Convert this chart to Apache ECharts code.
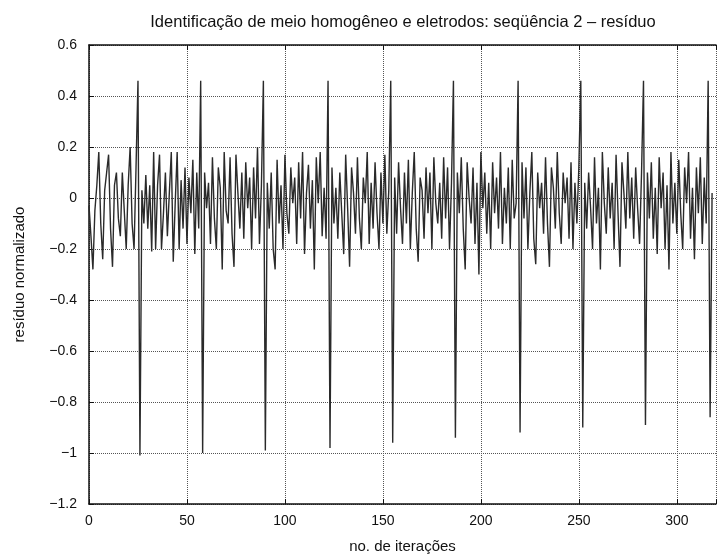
<!DOCTYPE html>
<html>
<head>
<meta charset="utf-8">
<script src="https://cdn.jsdelivr.net/npm/echarts@6/dist/echarts.min.js"></script>
<style>
  html, body { margin: 0; padding: 0; background: #fff; }
  #chart { width: 719px; height: 559px; }
</style>
</head>
<body>
<div id="chart"></div>
<script>
// resíduo normalizado, um ciclo por bloco (pico +0.46 e -1 no fim)
const ciclo1 = [-0.03, -0.15, -0.28, -0.05, 0.05, 0.18, -0.1, -0.24, 0.03, 0.1, 0.17, -0.12, -0.27, 0.05, 0.1, -0.08, -0.15, 0.1, -0.05, -0.2, 0.05, 0.2, -0.1, -0.2, 0.12, 0.46, -1.01];
const ciclo2 = [0.03, -0.1, 0.09, -0.12, 0.05, -0.21, 0.18, -0.2, 0.05, 0.17, -0.2, -0.06, 0.1, -0.15, 0.02, 0.18, -0.25, -0.02, 0.18, -0.2, 0.07, -0.12, 0.12, -0.18, 0.08, -0.06, 0.15, -0.22, 0.1, -0.12, 0.46, -1.0];
const ciclo3 = [0.1, -0.04, 0.06, -0.18, 0.16, -0.08, -0.2, 0.12, 0.04, -0.28, 0.18, -0.05, -0.1, 0.16, -0.14, -0.27, 0.17, 0.02, -0.12, 0.1, -0.16, 0.14, -0.04, 0.08, -0.2, 0.12, -0.08, 0.2, -0.18, 0.05, 0.46, -0.99];
const ciclo4 = [0.06, -0.12, 0.1, -0.2, -0.28, 0.15, -0.1, 0.05, -0.2, 0.17, -0.06, -0.14, 0.12, -0.02, 0.08, -0.18, 0.14, -0.08, 0.18, -0.22, 0.02, 0.13, -0.12, 0.07, -0.28, 0.16, -0.02, 0.18, -0.15, 0.04, -0.16, 0.46, -0.98];
const ciclo5 = [0.12, -0.1, 0.04, -0.16, 0.1, -0.06, -0.22, 0.17, -0.04, -0.27, 0.12, 0.02, -0.14, 0.16, -0.08, -0.2, 0.08, -0.02, 0.18, -0.18, 0.06, -0.12, 0.14, -0.06, -0.2, 0.1, -0.1, 0.17, -0.14, 0.03, 0.46, -0.96];
const ciclo6 = [0.08, -0.14, 0.14, -0.04, -0.18, 0.1, -0.1, 0.15, -0.2, 0.02, 0.18, -0.12, -0.25, 0.08, 0.03, -0.16, 0.12, -0.06, 0.1, -0.2, 0.16, -0.02, -0.1, 0.06, -0.16, 0.16, -0.08, 0.12, -0.2, 0.06, 0.46, -0.94];
const ciclo7 = [0.1, -0.06, 0.16, -0.12, -0.28, 0.14, 0.0, -0.1, 0.12, -0.18, 0.06, -0.3, 0.18, -0.04, 0.1, -0.14, 0.06, -0.2, 0.14, -0.06, 0.08, -0.12, 0.18, -0.18, 0.04, -0.1, 0.12, -0.2, 0.15, -0.08, -0.02, 0.46, -0.92];
const ciclo8 = [0.14, -0.08, 0.12, -0.2, 0.02, 0.18, -0.16, -0.26, 0.1, -0.04, 0.06, -0.14, 0.16, -0.1, -0.27, 0.12, 0.04, -0.12, 0.18, -0.06, -0.18, 0.1, -0.02, 0.08, -0.16, 0.14, -0.2, 0.06, -0.1, 0.12, 0.46, -0.9];
const ciclo9 = [0.06, -0.12, 0.1, -0.04, -0.2, 0.16, -0.1, 0.04, -0.28, 0.18, -0.02, -0.14, 0.12, -0.08, 0.06, -0.2, 0.17, -0.06, -0.27, 0.14, 0.02, -0.12, 0.18, -0.08, 0.08, -0.16, 0.12, -0.04, -0.18, 0.1, 0.46, -0.89];
const ciclo10 = [0.1, -0.08, 0.14, -0.16, 0.04, -0.22, 0.16, -0.04, 0.1, -0.2, 0.05, -0.28, 0.18, -0.1, 0.06, -0.14, 0.15, -0.06, -0.2, 0.12, -0.02, 0.18, -0.16, 0.04, -0.24, 0.12, -0.06, 0.16, -0.18, 0.08, -0.1, 0.46, -0.86];
const fim = [0.02];

const xTicks = [0, 50, 100, 150, 200, 250, 300];
const yTicks = [-1.2, -1, -0.8, -0.6, -0.4, -0.2, 0, 0.2, 0.4, 0.6];

const residuo = [].concat(ciclo1, ciclo2, ciclo3, ciclo4, ciclo5, ciclo6, ciclo7, ciclo8, ciclo9, ciclo10, fim);
const pontos = residuo.map((v, i) => [i, v]);

const fonte = "'Liberation Sans', Arial, sans-serif";

var chart = echarts.init(document.getElementById('chart'), null, { renderer: 'canvas' });

var option = {
  backgroundColor: '#fff',
  animation: false,
  title: {
    text: 'Identificação de meio homogêneo e eletrodos: seqüência 2 – resíduo',
    left: 398,
    top: 9,
    textAlign: 'center',
    textStyle: { fontFamily: fonte, fontSize: 16.5, fontWeight: 'normal', color: '#111' }
  },
  grid: { left: 89, top: 45, bottom: 54, right: -3 },
  xAxis: [
    {
      type: 'value',
      min: 0,
      max: 320,
      interval: 50,
      name: 'no. de iterações',
      nameLocation: 'middle',
      nameGap: 35,
      nameTextStyle: { fontFamily: fonte, fontSize: 15, color: '#111' },
      axisLine: { onZero: false, lineStyle: { color: '#111', width: 1.5 } },
      axisTick: { inside: true, length: 5, lineStyle: { color: '#111' } },
      axisLabel: {
        margin: 10,
        fontFamily: fonte, fontSize: 14, color: '#111',
        formatter: v => xTicks.indexOf(v) >= 0 ? String(v) : ''
      },
      splitLine: { show: true, lineStyle: { color: '#555', type: 'dotted', width: 1 } }
    },
    {
      type: 'value',
      position: 'top',
      min: 0,
      max: 320,
      interval: 50,
      axisLine: { onZero: false, lineStyle: { color: '#111', width: 1.5 } },
      axisTick: { inside: true, length: 5, lineStyle: { color: '#111' } },
      axisLabel: { show: false },
      splitLine: { show: false }
    }
  ],
  yAxis: {
    type: 'value',
    min: -1.2,
    max: 0.6,
    interval: 0.2,
    name: 'resíduo normalizado',
    nameLocation: 'middle',
    nameGap: 62,
    nameTextStyle: { fontFamily: fonte, fontSize: 15, color: '#111' },
    axisLine: { show: true, onZero: false, lineStyle: { color: '#111', width: 1.5 } },
    axisTick: { show: true, inside: true, length: 5, lineStyle: { color: '#111' } },
    axisLabel: {
      margin: 12,
      fontFamily: fonte, fontSize: 14, color: '#111',
      formatter: v => {
        const r = Math.round(v * 10) / 10;
        if (yTicks.indexOf(r) < 0) return '';
        return String(r).replace('-', '\u2212');
      }
    },
    splitLine: { show: true, lineStyle: { color: '#555', type: 'dotted', width: 1 } }
  },
  series: [
    {
      type: 'line',
      xAxisIndex: 0,
      data: pontos,
      showSymbol: false,
      lineStyle: { color: '#2a2a2a', width: 1.4 }
    }
  ]
};

chart.setOption(option);
</script>
</body>
</html>
